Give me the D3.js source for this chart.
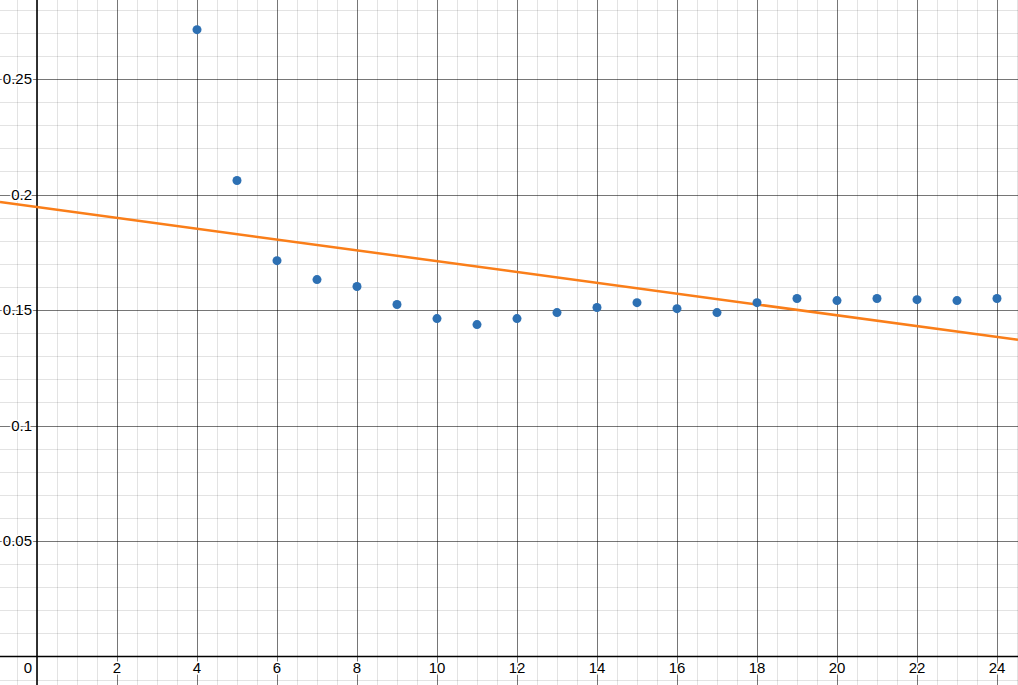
<!DOCTYPE html>
<html>
<head>
<meta charset="utf-8">
<script src="https://cdn.jsdelivr.net/npm/d3@7"></script>
<style>
  html, body { margin: 0; padding: 0; background: #fff; }
  svg { display: block; }
  text { font-family: "Liberation Sans", Arial, sans-serif; font-size: 15px; fill: #000; }
</style>
</head>
<body>
<div id="chart"></div>
<script>
const width = 1018, height = 685;

// view window (graph units)
const xDomain = [-0.925, 24.525];
const yDomain = [-0.01234, 0.28425];

// data points
const xs = [4, 5, 6, 7, 8, 9, 10, 11, 12, 13, 14, 15, 16, 17, 18, 19, 20, 21, 22, 23, 24];
const ys = [0.2714, 0.2061, 0.1714, 0.1632, 0.1602, 0.1524, 0.1463, 0.1437, 0.1463, 0.1489,
            0.1511, 0.1532, 0.1506, 0.1489, 0.1532, 0.1550, 0.1541, 0.1550, 0.1545, 0.1541, 0.1550];

// fitted line y = m x + b
const slope = -0.002343;
const intercept = 0.1946;

// ticks
const xTicks = [0, 2, 4, 6, 8, 10, 12, 14, 16, 18, 20, 22, 24];
const yTicks = [0.05, 0.1, 0.15, 0.2, 0.25];
const yTickLabels = ['0.05', '0.1', '0.15', '0.2', '0.25'];

const x = d3.scaleLinear().domain(xDomain).range([0, width]);
const y = d3.scaleLinear().domain(yDomain).range([height, 0]);

const svg = d3.select('#chart')
    .append('svg')
    .attr('width', width)
    .attr('height', height);

// minor grid
const xMinor = d3.range(-0.5, 25, 0.5);
const yMinor = d3.range(-0.01, 0.29, 0.01);
svg.append('g')
    .attr('stroke', '#000')
    .attr('stroke-opacity', 0.11)
    .attr('stroke-width', 1)
    .call(g => g.selectAll('line.vx').data(xMinor).join('line')
        .attr('x1', d => Math.round(x(d)) + 0.5).attr('x2', d => Math.round(x(d)) + 0.5)
        .attr('y1', 0).attr('y2', height))
    .call(g => g.selectAll('line.hy').data(yMinor).join('line')
        .attr('y1', d => Math.round(y(d)) + 0.5).attr('y2', d => Math.round(y(d)) + 0.5)
        .attr('x1', 0).attr('x2', width));

// major grid
const xMajor = d3.range(2, 26, 2);
const yMajor = d3.range(0.05, 0.3, 0.05);
svg.append('g')
    .attr('stroke', '#000')
    .attr('stroke-opacity', 0.48)
    .attr('stroke-width', 1)
    .call(g => g.selectAll('line.vx').data(xMajor).join('line')
        .attr('x1', d => Math.round(x(d)) + 0.5).attr('x2', d => Math.round(x(d)) + 0.5)
        .attr('y1', 0).attr('y2', height))
    .call(g => g.selectAll('line.hy').data(yMajor).join('line')
        .attr('y1', d => Math.round(y(d)) + 0.5).attr('y2', d => Math.round(y(d)) + 0.5)
        .attr('x1', 0).attr('x2', width));

// axes
svg.append('line')
    .attr('x1', 0).attr('x2', width)
    .attr('y1', y(0)).attr('y2', y(0))
    .attr('stroke', '#000').attr('stroke-width', 1.6);
svg.append('line')
    .attr('x1', x(0)).attr('x2', x(0))
    .attr('y1', 0).attr('y2', height)
    .attr('stroke', '#000').attr('stroke-width', 1.6);

// tick labels
const labels = svg.append('g');
labels.selectAll('text.xl').data(xTicks).join('text')
    .attr('x', d => d === 0 ? x(0) - 9 : x(d))
    .attr('y', y(0) + 17)
    .attr('text-anchor', 'middle')
    .attr('stroke', '#fff').attr('stroke-width', 3).attr('paint-order', 'stroke')
    .text(d => d);
labels.selectAll('text.yl').data(yTicks).join('text')
    .attr('x', x(0) - 5)
    .attr('y', d => y(d) + 5)
    .attr('text-anchor', 'end')
    .attr('stroke', '#fff').attr('stroke-width', 3).attr('paint-order', 'stroke')
    .text((d, i) => yTickLabels[i]);

// regression line
svg.append('line')
    .attr('x1', x(xDomain[0])).attr('y1', y(slope * xDomain[0] + intercept))
    .attr('x2', x(xDomain[1])).attr('y2', y(slope * xDomain[1] + intercept))
    .attr('stroke', '#fa7e19')
    .attr('stroke-width', 2.5);

// points
svg.append('g')
    .selectAll('circle')
    .data(xs)
    .join('circle')
    .attr('cx', d => x(d))
    .attr('cy', (d, i) => y(ys[i]))
    .attr('r', 4.5)
    .attr('fill', '#2d70b3');
</script>
</body>
</html>
